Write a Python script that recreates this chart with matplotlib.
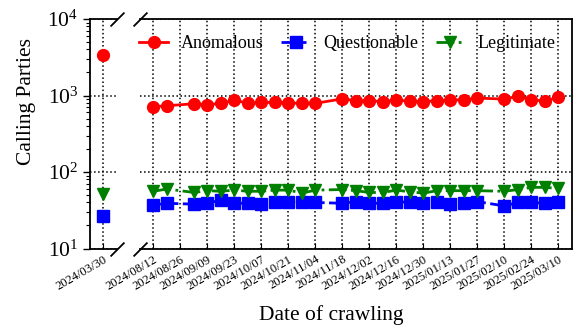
import matplotlib
matplotlib.use("Agg")
import matplotlib.pyplot as plt
import matplotlib.dates as mdates
import numpy as np
import pandas as pd

plt.rcParams['font.family'] = ['Liberation Serif', 'DejaVu Serif']
plt.rcParams['mathtext.fontset'] = 'stix'

# first crawl, shown in its own narrow panel
first_date = ['2024-03-30']
first_anomalous = [3400]
first_questionable = [27]
first_legitimate = [52]

# weekly crawls
dates = ['2024-08-12', '2024-08-19', '2024-09-02', '2024-09-09', '2024-09-16',
         '2024-09-23', '2024-09-30', '2024-10-07', '2024-10-14', '2024-10-21',
         '2024-10-28', '2024-11-04', '2024-11-18', '2024-11-25', '2024-12-02',
         '2024-12-09', '2024-12-16', '2024-12-23', '2024-12-30', '2025-01-06',
         '2025-01-13', '2025-01-20', '2025-01-27', '2025-02-10', '2025-02-17',
         '2025-02-24', '2025-03-03', '2025-03-10']
anomalous = [713, 735, 780, 760, 787, 870, 790, 812, 812, 800, 790, 790, 906, 853,
             853, 834, 870, 845, 834, 853, 870, 880, 925, 898, 982, 870, 853, 943]
questionable = [37, 39, 38, 39, 43, 39, 39, 38, 40, 41, 40, 40, 39, 41,
                39, 39, 40, 41, 39, 40, 38, 39, 41, 36, 40, 40, 39, 41]
legitimate = [56, 60, 54, 57, 56, 58, 56, 56, 58, 58, 53, 58, 59, 57,
              54, 54, 58, 55, 53, 57, 57, 57, 57, 56, 59, 63, 63, 61]

tick_dates = ['2024-08-12', '2024-08-26', '2024-09-09', '2024-09-23', '2024-10-07',
              '2024-10-21', '2024-11-04', '2024-11-18', '2024-12-02', '2024-12-16',
              '2024-12-30', '2025-01-13', '2025-01-27', '2025-02-10', '2025-02-24',
              '2025-03-10']

d0 = pd.to_datetime(first_date)
d = pd.to_datetime(dates)
ticks = pd.to_datetime(tick_dates)

fig = plt.figure(figsize=(5.78, 3.26), dpi=100)
ax1 = fig.add_axes([0.1557, 0.2377, 0.0467, 0.704])
ax2 = fig.add_axes([0.2422, 0.2377, 0.7474, 0.704])

styles = [
    ('Anomalous', 'red', '-', 'o'),
    ('Questionable', 'blue', '--', 's'),
    ('Legitimate', 'green', '-.', 'v'),
]
first_vals = [first_anomalous, first_questionable, first_legitimate]
vals = [anomalous, questionable, legitimate]

for (name, c, ls, m), v0, v in zip(styles, first_vals, vals):
    ax1.plot(d0, v0, color=c, linestyle=ls, marker=m, markersize=8.5, lw=2)
    ax2.plot(d, v, color=c, linestyle=ls, marker=m, markersize=8.5, lw=2, label=name)

for ax in (ax1, ax2):
    ax.set_yscale('log')
    ax.set_ylim(10, 10000)
    ax.grid(True, which='major', linestyle=':', color='black', linewidth=1.1)
    ax.tick_params(axis='x', direction='in', length=4, labelsize=9)

ax1.set_xlim(d0[0] - pd.Timedelta(days=7), d0[0] + pd.Timedelta(days=7))
ax1.set_xticks(d0)
ax2.set_xlim(pd.Timestamp('2024-08-05'), pd.Timestamp('2025-03-17'))
ax2.set_xticks(ticks)
for ax in (ax1, ax2):
    ax.xaxis.set_major_formatter(mdates.DateFormatter('%Y/%m/%d'))
    for lbl in ax.get_xticklabels():
        lbl.set_rotation(30)
        lbl.set_ha('right')
        lbl.set_rotation_mode('anchor')

ax1.spines['right'].set_visible(False)
ax2.spines['left'].set_visible(False)
ax1.spines[['left', 'top', 'bottom']].set_linewidth(1.3)
ax2.spines[['right', 'top', 'bottom']].set_linewidth(1.3)
ax1.tick_params(axis='y', which='major', length=5, labelsize=15.5, width=1)
ax1.tick_params(axis='y', which='minor', length=3, width=0.8)
ax2.tick_params(axis='y', which='both', left=False, labelleft=False)
fig.text(0.045, 0.69, 'Calling Parties', rotation=90, ha='center', va='center',
         fontsize=15.5)
fig.text(0.573, 0.018, 'Date of crawling', ha='center', fontsize=15.5)

# diagonal cut marks on the axis break
kw = dict(marker=[(-1, -1), (1, 1)], markersize=10, linestyle='none',
          color='k', mec='k', mew=1.3, clip_on=False)
ax1.plot([1, 1], [0, 1], transform=ax1.transAxes, **kw)
ax2.plot([0, 0], [0, 1], transform=ax2.transAxes, **kw)

ax2.legend(loc='upper center', bbox_to_anchor=(0.48, 1.0), ncol=3,
           frameon=False, fontsize=13, handlelength=1.6, columnspacing=1.0,
           handletextpad=0.7)

fig.savefig('out.png', dpi=100)
